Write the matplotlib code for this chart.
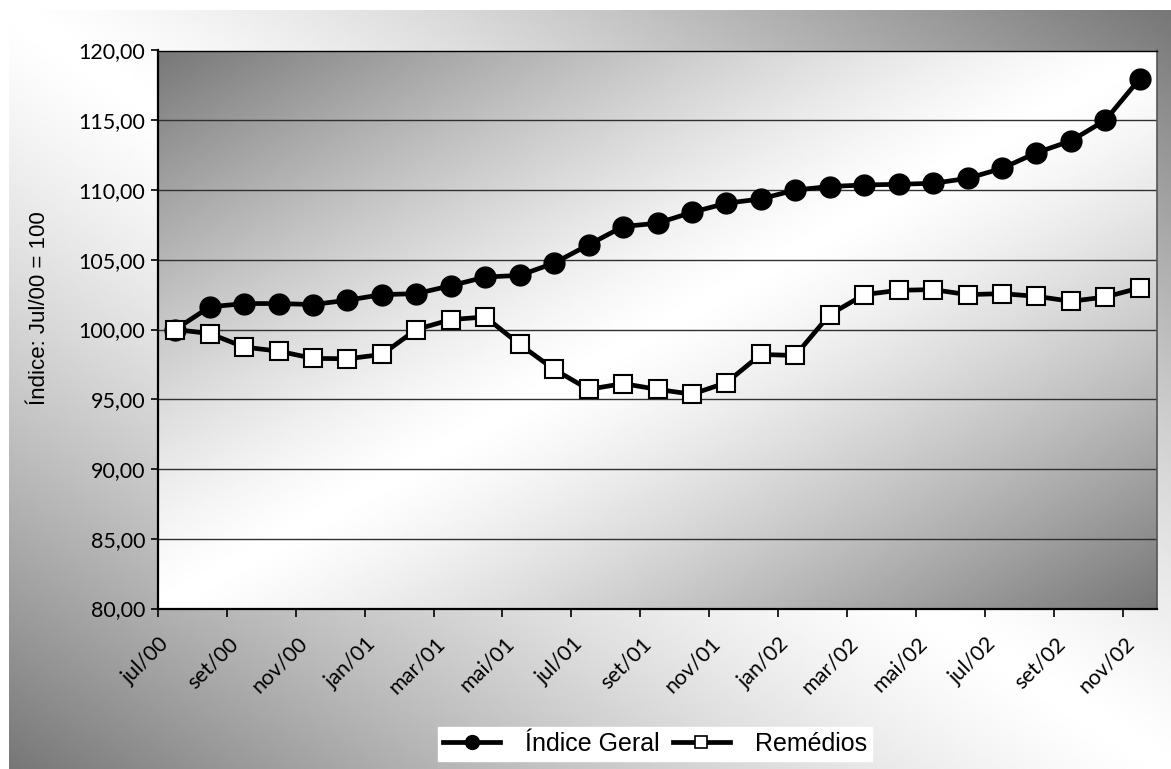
import numpy as np
import matplotlib
matplotlib.use("Agg")
import matplotlib.pyplot as plt
import matplotlib.lines as mlines
import matplotlib.transforms as mtransforms
from matplotlib.ticker import FixedLocator, FuncFormatter

# ---------------------------------------------------------------------------
# Data: monthly indices, base jul/00 = 100
# ---------------------------------------------------------------------------

MONTHS = [
    "jul/00", "ago/00", "set/00", "out/00", "nov/00", "dez/00",
    "jan/01", "fev/01", "mar/01", "abr/01", "mai/01", "jun/01",
    "jul/01", "ago/01", "set/01", "out/01", "nov/01", "dez/01",
    "jan/02", "fev/02", "mar/02", "abr/02", "mai/02", "jun/02",
    "jul/02", "ago/02", "set/02", "out/02", "nov/02",
]

INDICE_GERAL = [
    100.00, 101.62, 101.86, 101.86, 101.79, 102.10, 102.50, 102.57, 103.14,
    103.76, 103.88, 104.76, 106.07, 107.38, 107.62, 108.40, 109.05, 109.36,
    110.00, 110.25, 110.36, 110.41, 110.48, 110.83, 111.55, 112.67, 113.52,
    115.00, 117.98,
]

REMEDIOS = [
    100.00, 99.71, 98.74, 98.45, 97.93, 97.90, 98.21, 100.00, 100.71,
    100.90, 98.93, 97.14, 95.71, 96.12, 95.71, 95.36, 96.19, 98.21,
    98.14, 101.07, 102.50, 102.81, 102.86, 102.50, 102.57, 102.38, 102.02,
    102.33, 102.98,
]

Y_TICKS = [80, 85, 90, 95, 100, 105, 110, 115, 120]
SERIES_NAMES = ["Índice Geral", "Remédios"]
Y_LABEL = "Índice: Jul/00 = 100"

# ---------------------------------------------------------------------------
# Style
# ---------------------------------------------------------------------------

W_PX, H_PX, DPI = 1171, 769, 100
TICK_FONT = "Lato"
TEXT_FONT = "Liberation Sans"
LINE_W = 3.4


def ramp(t):
    """Grey level for a two-tone gradient: white at t=0, #777 at |t|=1."""
    return (255 - 136 * np.abs(t) ** 1.3) / 255.0


def comma_fmt(v, _pos):
    return f"{v:.2f}".replace(".", ",")


def main():
    fig = plt.figure(figsize=(W_PX / DPI, H_PX / DPI), dpi=DPI)
    fig.patch.set_facecolor("white")

    # -- Chart-area background (light along TL-BR diagonal) -------------------
    bx0, btop = 9 / W_PX, 10 / H_PX
    bg = fig.add_axes([bx0, 0, 1 - bx0, 1 - btop], zorder=-5)
    u, v = np.meshgrid(np.linspace(0, 1, 400), np.linspace(0, 1, 300))
    bg.imshow(ramp(u - v), cmap="gray", vmin=0, vmax=1, aspect="auto",
              extent=[0, 1, 1, 0], interpolation="bilinear")
    bg.axis("off")

    # -- Plot area ---------------------------------------------------------------
    left, right = 158 / W_PX, 1157 / W_PX
    top, bottom = 1 - 50.5 / H_PX, 1 - 608.5 / H_PX
    ax = fig.add_axes([left, bottom, right - left, top - bottom])
    ax.patch.set_facecolor("none")

    n = len(MONTHS)
    x = np.arange(n)
    ax.imshow(ramp(u + v - 1), cmap="gray", vmin=0, vmax=1, aspect="auto",
              extent=[-0.5, n - 0.5, Y_TICKS[0], Y_TICKS[-1]],
              interpolation="bilinear", zorder=0)

    ax.plot(x, INDICE_GERAL, color="black", lw=LINE_W, marker="o",
            markersize=15, markerfacecolor="black", markeredgecolor="black",
            zorder=3, label=SERIES_NAMES[0])
    ax.plot(x, REMEDIOS, color="black", lw=LINE_W, marker="s",
            markersize=13.5, markerfacecolor="white", markeredgecolor="black",
            markeredgewidth=1.5, zorder=4, label=SERIES_NAMES[1])

    ax.set_xlim(-0.5, n - 0.5)
    ax.set_ylim(Y_TICKS[0], Y_TICKS[-1])

    # y axis
    ax.set_yticks(Y_TICKS)
    ax.yaxis.set_major_formatter(FuncFormatter(comma_fmt))
    ax.tick_params(axis="y", length=5, width=1.2, pad=4, labelsize=15.5)
    ax.grid(axis="y", color="#303030", lw=1.0)
    for lab in ax.get_yticklabels():
        lab.set_family(TICK_FONT)

    # x axis: tick marks between categories, labels on every other month
    ax.xaxis.set_major_locator(FixedLocator(np.arange(-0.5, n - 1, 2)))
    ax.set_xticks(x[::2], minor=True)
    ax.set_xticklabels([], minor=False)
    ax.set_xticklabels(MONTHS[::2], minor=True)
    ax.tick_params(axis="x", which="major", length=6, width=1.2)
    ax.tick_params(axis="x", which="minor", length=0, pad=23, labelsize=15.5)
    shift = mtransforms.ScaledTranslation(-9 / DPI, 0, fig.dpi_scale_trans)
    for lab in ax.get_xticklabels(minor=True):
        lab.set_family(TICK_FONT)
        lab.set_rotation(45)
        lab.set_rotation_mode("anchor")
        lab.set_ha("right")
        lab.set_va("center")
        lab.set_transform(lab.get_transform() + shift)

    for side in ("left", "bottom"):
        ax.spines[side].set_color("black")
        ax.spines[side].set_linewidth(1.6)
    ax.spines["top"].set_color("black")
    ax.spines["top"].set_linewidth(1.0)
    ax.spines["right"].set_color("#555555")
    ax.spines["right"].set_linewidth(1.2)

    fig.text(40 / W_PX, 1 - 308 / H_PX, Y_LABEL, rotation=90, ha="center",
             va="center", fontsize=16, family=TEXT_FONT)

    # -- Legend ------------------------------------------------------------------
    handles = [
        mlines.Line2D([], [], color="black", lw=LINE_W, marker="o",
                      markersize=10, markerfacecolor="black"),
        mlines.Line2D([], [], color="black", lw=LINE_W, marker="s",
                      markersize=9, markerfacecolor="white",
                      markeredgecolor="black", markeredgewidth=1.2),
    ]
    leg = fig.legend(handles, SERIES_NAMES, loc="center", ncol=2,
                     bbox_to_anchor=(655 / W_PX, 1 - 744 / H_PX),
                     prop={"family": TEXT_FONT, "size": 18},
                     frameon=True, fancybox=False, handlelength=2.3,
                     handletextpad=1.0, columnspacing=0.5,
                     borderpad=0.2, borderaxespad=0)
    leg.get_frame().set_facecolor("white")
    leg.get_frame().set_edgecolor("white")
    leg.get_frame().set_alpha(1.0)

    fig.savefig("out.png", dpi=DPI)
    plt.close(fig)


if __name__ == "__main__":
    main()
